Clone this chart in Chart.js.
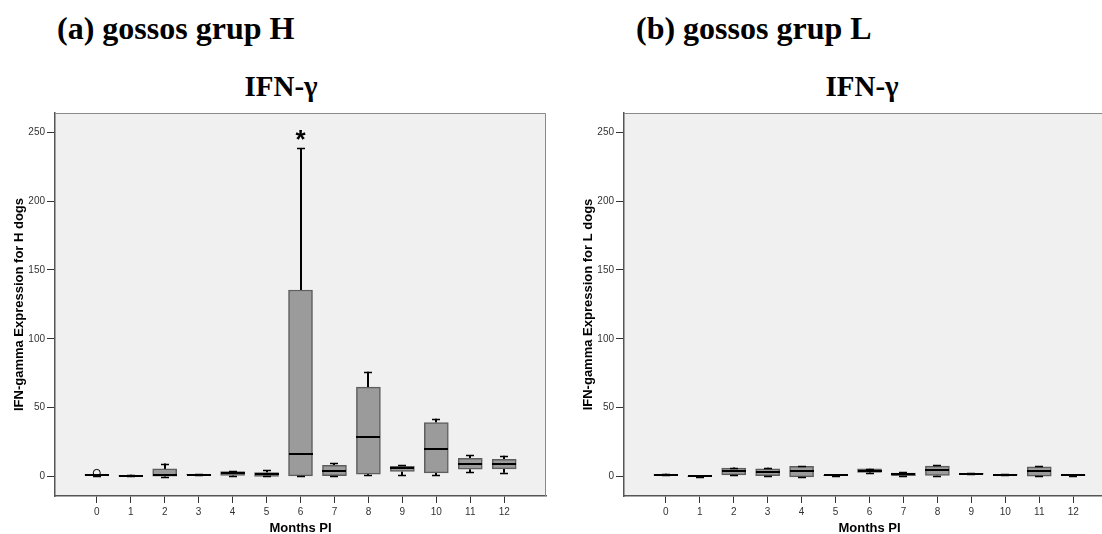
<!DOCTYPE html>
<html>
<head>
<meta charset="utf-8">
<script src="https://cdn.jsdelivr.net/npm/chart.js@4.4.1/dist/chart.umd.min.js"></script>
<style>
  html, body { margin: 0; padding: 0; background: #fff; overflow: hidden; width: 1102px; height: 534px; }
  canvas { position: absolute; top: 0; }
  .head { position: absolute; font-family: "Liberation Serif", "Times New Roman", serif; font-weight: bold; color: #000; white-space: nowrap; }
  .big { font-size: 32px; line-height: 32px; top: 12px; }
  .mid { font-size: 29px; line-height: 29px; top: 72px; }
</style>
</head>
<body>
<div class="head big" style="left:57px">(a) gossos grup H</div>
<div class="head mid" id="t1">IFN-γ</div>
<div class="head big" style="left:636px">(b) gossos grup L</div>
<div class="head mid" id="t2">IFN-γ</div>
<canvas id="chartH" width="551" height="534" style="left:0"></canvas>
<canvas id="chartL" width="551" height="534" style="left:569px"></canvas>

<script>
// months post infection
const months = [0, 1, 2, 3, 4, 5, 6, 7, 8, 9, 10, 11, 12];
const yTicks = [0, 50, 100, 150, 200, 250];

// group H box stats
const hMin = [0.6, 0, -0.2, 1.1, 0, 0, 0, 0, 1.0, 0.7, 0.9, 3.1, 2.6];
const hQ1  = [0.7, 0.2, 0.2, 1.2, 0.7, 0.1, 0, 0.5, 1.7, 3.6, 2.6, 5.3, 5.5];
const hMed = [1.0, 0.5, 0.8, 1.4, 2.5, 1.5, 16.4, 3.9, 28.3, 6.5, 20.1, 9.2, 8.9];
const hQ3  = [1.3, 0.9, 5.5, 1.6, 3.6, 2.9, 135.4, 8.0, 64.9, 7.3, 39.2, 13.1, 12.4];
const hMax = [1.4, 1.2, 9.4, 1.7, 4.0, 4.6, 238.6, 9.7, 76, 8.0, 41.9, 15.3, 15.0];
const hOutliers = [{ month: 0, value: 2.6 }];
const hStars = [{ month: 6, value: 249, text: '*' }];

// group L box stats
const lMin = [0.7, -0.2, 1.0, 0, -0.3, 0.6, 2.2, 0.3, 0.6, 1.6, 0.9, 0.0, 0.3];
const lQ1  = [0.8, -0.2, 1.2, 0.5, -0.3, 0.6, 3.0, 0.6, 0.8, 1.6, 1.0, 0.2, 0.5];
const lMed = [1.1, 0, 3.6, 3.1, 3.6, 0.7, 4.2, 1.5, 4.6, 1.9, 1.3, 4.1, 0.8];
const lQ3  = [1.4, 0.1, 6.0, 5.5, 7.3, 0.8, 5.5, 2.4, 7.5, 2.2, 1.6, 7.0, 1.1];
const lMax = [2.0, 0.1, 6.5, 6.3, 7.6, 0.8, 5.6, 3.0, 8.0, 2.3, 1.7, 7.6, 1.3];

const sans = '"Liberation Sans", Arial, sans-serif';

// plot background + frame
const framePlugin = {
  id: 'frame',
  beforeDraw(chart) {
    const a = chart.chartArea, ctx = chart.ctx;
    ctx.save();
    ctx.fillStyle = '#f0f0f0';
    ctx.fillRect(a.left, a.top, a.right - a.left, a.bottom - a.top);
    ctx.restore();
  },
  afterDraw(chart) {
    const a = chart.chartArea, ctx = chart.ctx;
    ctx.save();
    ctx.strokeStyle = '#8a8a8a';
    ctx.lineWidth = 1;
    ctx.beginPath();
    ctx.moveTo(a.left, a.top + 0.5);
    ctx.lineTo(a.right - 0.5, a.top + 0.5);
    ctx.lineTo(a.right - 0.5, a.bottom);
    ctx.stroke();
    ctx.restore();
  }
};

// whiskers, medians, outliers
const boxParts = {
  id: 'boxParts',
  beforeDatasetsDraw(chart, args, opts) {
    const x = chart.scales.x, y = chart.scales.y, ctx = chart.ctx;
    ctx.save();
    ctx.strokeStyle = '#000';
    ctx.lineWidth = 2;
    months.forEach((m, i) => {
      const px = Math.round(x.getPixelForValue(m));
      ctx.beginPath();
      ctx.moveTo(px, y.getPixelForValue(opts.max[i]));
      ctx.lineTo(px, y.getPixelForValue(opts.q3[i]));
      ctx.moveTo(px, y.getPixelForValue(opts.q1[i]));
      ctx.lineTo(px, y.getPixelForValue(opts.min[i]));
      ctx.stroke();
    });
    ctx.restore();
  },
  afterDatasetsDraw(chart, args, opts) {
    const x = chart.scales.x, y = chart.scales.y, ctx = chart.ctx;
    ctx.save();
    months.forEach((m, i) => {
      const px = Math.round(x.getPixelForValue(m));
      // caps
      ctx.strokeStyle = '#000';
      ctx.lineWidth = 1.5;
      ctx.beginPath();
      [opts.max[i], opts.min[i]].forEach(v => {
        const py = Math.round(y.getPixelForValue(v)) + 0.5;
        ctx.moveTo(px - 4, py);
        ctx.lineTo(px + 4, py);
      });
      ctx.stroke();
      // median
      ctx.lineWidth = 2;
      ctx.beginPath();
      const pm = Math.round(y.getPixelForValue(opts.med[i]));
      ctx.moveTo(px - 12, pm);
      ctx.lineTo(px + 12, pm);
      ctx.stroke();
    });
    (opts.outliers || []).forEach(o => {
      ctx.strokeStyle = '#000';
      ctx.lineWidth = 1;
      ctx.beginPath();
      ctx.arc(x.getPixelForValue(o.month), y.getPixelForValue(o.value), 3.5, 0, Math.PI * 2);
      ctx.stroke();
    });
    (opts.stars || []).forEach(s => {
      const size = 26;
      ctx.fillStyle = '#000';
      ctx.font = 'bold ' + size + 'px ' + sans;
      ctx.textAlign = 'center';
      ctx.textBaseline = 'alphabetic';
      ctx.fillText(s.text, x.getPixelForValue(s.month), y.getPixelForValue(s.value) + size * 0.55);
    });
    ctx.restore();
  }
};

function makeChart(id, q1, med, q3, min, max, yTitle, outliers, stars) {
  return new Chart(document.getElementById(id), {
    type: 'bar',
    data: {
      datasets: [{
        data: months.map((m, i) => ({ x: m, y: [q1[i], q3[i]] })),
        backgroundColor: '#9b9b9b',
        borderColor: '#5e5e5e',
        borderWidth: 1.5,
        borderSkipped: false,
        barThickness: 24
      }]
    },
    options: {
      responsive: false,
      animation: false,
      layout: { padding: { top: 113, left: 0, right: 5, bottom: 0 } },
      plugins: {
        legend: { display: false },
        tooltip: { enabled: false },
        boxParts: { q1, med, q3, min, max, outliers, stars }
      },
      scales: {
        x: {
          type: 'linear',
          offset: false,
          min: -1.23,
          max: 13.23,
          afterBuildTicks: s => { s.ticks = months.map(v => ({ value: v })); },
          afterFit: s => { s.height = 38; },
          grid: { offset: false, drawOnChartArea: false, drawTicks: true, tickLength: 7, color: '#333', lineWidth: 1 },
          border: { color: '#555', width: 1.5 },
          ticks: { font: { family: sans, size: 10 }, color: '#333', padding: 3, maxRotation: 0, autoSkip: false },
          title: { display: true, text: 'Months PI', color: '#000', font: { family: sans, size: 13, weight: 'bold', lineHeight: 1 }, padding: { top: 0, bottom: -1 } }
        },
        y: {
          min: -14.2,
          max: 264,
          afterBuildTicks: s => { s.ticks = yTicks.map(v => ({ value: v })); },
          afterFit: s => { s.width = 55; },
          grid: { drawOnChartArea: false, drawTicks: true, tickLength: 8, color: '#333', lineWidth: 1 },
          border: { color: '#555', width: 1.5 },
          ticks: { font: { family: sans, size: 10 }, color: '#333', padding: 2 },
          title: { display: true, text: yTitle, color: '#000', font: { family: sans, size: 13, weight: 'bold' }, padding: { top: 12, bottom: 0 } }
        }
      }
    },
    plugins: [framePlugin, boxParts]
  });
}

const cH = makeChart('chartH', hQ1, hMed, hQ3, hMin, hMax, 'IFN-gamma Expression for H dogs', hOutliers, hStars);
const cL = makeChart('chartL', lQ1, lMed, lQ3, lMin, lMax, 'IFN-gamma Expression for L dogs', [], []);

// centre the IFN-γ titles
function place(id, centre) {
  const el = document.getElementById(id);
  el.style.left = (centre - el.offsetWidth / 2) + 'px';
}
place('t1', 281);
place('t2', 862);
</script>
</body>
</html>
